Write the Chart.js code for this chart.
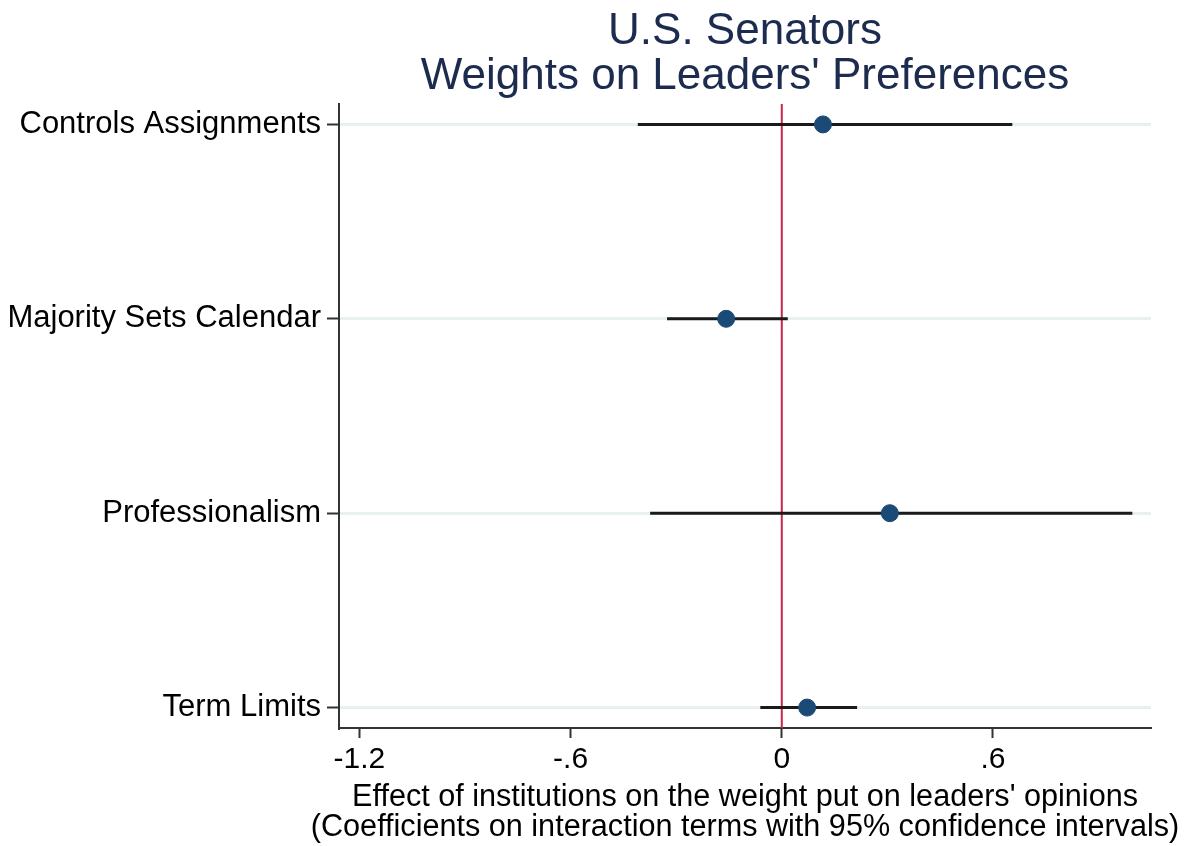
<!DOCTYPE html>
<html>
<head>
<meta charset="utf-8">
<script src="https://cdn.jsdelivr.net/npm/chart.js@4"></script>
<style>
  html, body { margin: 0; padding: 0; background: #fff; }
  #wrap { width: 1191px; height: 846px; }
</style>
</head>
<body>
<div id="wrap"><canvas id="chart" width="1191" height="846"></canvas></div>
<script>
// categories, top to bottom
const categories = ['Controls Assignments', 'Majority Sets Calendar', 'Professionalism', 'Term Limits'];
// point estimates and 95% CI bounds
const estimates = [0.117, -0.158, 0.307, 0.072];
const lowerCI = [-0.409, -0.326, -0.374, -0.061];
const upperCI = [0.655, 0.017, 0.996, 0.214];

const xTickValues = [-1.2, -0.6, 0, 0.6];
const xTickLabels = ['-1.2', '-.6', '0', '.6'];

const titleLines = ['U.S. Senators', "Weights on Leaders' Preferences"];
const xTitleLines = ["Effect of institutions on the weight put on leaders' opinions",
    '(Coefficients on interaction terms with 95% confidence intervals)'];

const X_MIN = -1.258, X_MAX = 1.049;
const Y_MIN = 0.895, Y_MAX = 4.105;
const FONT = "'Liberation Sans', Arial, Helvetica, sans-serif";

// category i sits at y = n - i (first one on top)
const yPos = i => categories.length - i;

const ciDatasets = categories.map((c, i) => ({
    type: 'line',
    label: c + ' CI',
    data: [{x: lowerCI[i], y: yPos(i)}, {x: upperCI[i], y: yPos(i)}],
    borderColor: '#1a1a1a',
    borderWidth: 3,
    pointRadius: 0,
    order: 2,
}));

const titlePlugin = {
    id: 'titles',
    afterDraw(chart) {
        const {ctx, chartArea} = chart;
        const cx = (chartArea.left + chartArea.right) / 2;
        ctx.save();
        ctx.textAlign = 'center';
        ctx.textBaseline = 'alphabetic';
        ctx.fillStyle = '#1c2b4e';
        ctx.font = '44px ' + FONT;
        ctx.fillText(titleLines[0], cx, 44);
        ctx.fillText(titleLines[1], cx, 89);
        ctx.fillStyle = '#000';
        ctx.font = '30.6px ' + FONT;
        ctx.fillText(xTitleLines[0], cx, 806);
        ctx.fillText(xTitleLines[1], cx, 836);
        ctx.restore();
    }
};

new Chart(document.getElementById('chart'), {
    type: 'scatter',
    data: {
        datasets: [
            {
                type: 'scatter',
                label: 'Estimate',
                data: estimates.map((v, i) => ({x: v, y: yPos(i)})),
                backgroundColor: '#1b4a76',
                borderColor: '#1b4a76',
                pointRadius: 8.5,
                pointHoverRadius: 8.5,
                order: 1,
            },
            ...ciDatasets,
            {
                type: 'line',
                label: 'zero',
                data: [{x: 0, y: Y_MIN}, {x: 0, y: Y_MAX}],
                borderColor: '#c8254a',
                borderWidth: 2,
                pointRadius: 0,
                order: 3,
            }
        ]
    },
    options: {
        responsive: false,
        animation: false,
        events: [],
        layout: {padding: {top: 104, right: 40, bottom: 0, left: 0}},
        plugins: {
            legend: {display: false},
            tooltip: {enabled: false},
            title: {display: false},
        },
        scales: {
            x: {
                type: 'linear',
                min: X_MIN,
                max: X_MAX,
                afterBuildTicks: scale => { scale.ticks = xTickValues.map(v => ({value: v})); },
                afterFit: scale => { scale.height = 118; },
                ticks: {
                    padding: 4,
                    color: '#000',
                    font: {family: FONT, size: 30},
                    maxRotation: 0,
                    callback: (v) => xTickLabels[xTickValues.findIndex(t => Math.abs(t - v) < 1e-9)],
                },
                grid: {
                    drawOnChartArea: false,
                    tickLength: 10,
                    tickColor: '#333',
                    tickWidth: 2,
                },
                border: {display: true, color: '#333', width: 2},
            },
            y: {
                type: 'linear',
                min: Y_MIN,
                max: Y_MAX,
                afterBuildTicks: scale => { scale.ticks = categories.map((c, i) => ({value: yPos(i)})); },
                afterFit: scale => { scale.width = 339; },
                ticks: {
                    padding: 6,
                    color: '#000',
                    font: {family: FONT, size: 31},
                    callback: (v) => categories[categories.length - Math.round(v)],
                },
                grid: {
                    drawOnChartArea: true,
                    color: '#e8f0f1',
                    lineWidth: 3,
                    tickLength: 12,
                    tickColor: '#333',
                    tickWidth: 2,
                },
                border: {display: true, color: '#333', width: 2},
            }
        }
    },
    plugins: [titlePlugin]
});
</script>
</body>
</html>
